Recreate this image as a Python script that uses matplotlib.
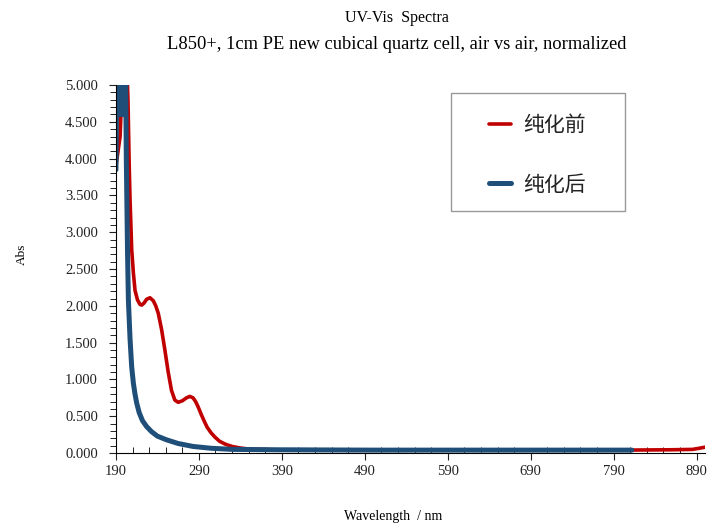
import numpy as np
import matplotlib.pyplot as plt
from matplotlib.patches import Rectangle
from matplotlib.ticker import FixedLocator, FormatStrFormatter, MultipleLocator

# 纯化前 (red)
wl_before = [190, 192.5, 195, 196, 197, 199, 201, 203, 204.5, 206, 207, 209, 211, 213, 216, 219, 221,
             224, 227, 231, 235, 238, 241, 245, 249, 253, 257, 261, 265, 270, 275, 279,
             283, 286, 289, 293, 297, 300, 305, 310, 315, 322, 330, 339, 350, 363, 380,
             420, 500, 600, 700, 800, 860, 885, 893, 900]
abs_before = [3.90, 4.10, 4.30, 4.60, 5.30, 5.50, 5.50, 5.30, 4.80, 3.90, 3.44, 2.76, 2.45, 2.21, 2.08, 2.02, 2.01,
              2.04, 2.09, 2.11, 2.07, 2.00, 1.90, 1.68, 1.40, 1.10, 0.85, 0.72, 0.69, 0.71, 0.75, 0.77,
              0.75, 0.70, 0.63, 0.52, 0.42, 0.35, 0.27, 0.21, 0.16, 0.12, 0.09, 0.07, 0.055, 0.05, 0.045,
              0.04, 0.04, 0.04, 0.04, 0.04, 0.045, 0.05, 0.065, 0.08]

# 纯化后 (blue), noisy / saturated above 5 between 191 and 202 nm
wl_after = [190, 191.5, 193, 194.5, 196, 197.5, 199, 200.5, 201.5, 202.5, 204, 205, 207, 209, 211, 213, 215,
            218, 222, 227, 233, 240, 251, 265, 283, 305, 331, 380, 500, 650, 812]
abs_after = [3.85, 5.60, 4.60, 5.60, 4.60, 5.60, 4.60, 5.60, 5.30, 4.00, 2.70, 2.08, 1.55, 1.17, 0.95, 0.80, 0.68,
             0.55, 0.44, 0.36, 0.29, 0.23, 0.18, 0.13, 0.09, 0.065, 0.05, 0.045, 0.04, 0.04, 0.04]

x_ticks = [190, 290, 390, 490, 590, 690, 790, 890]

plt.rcParams['font.family'] = ['Liberation Serif', 'DejaVu Serif']

fig = plt.figure(figsize=(7.07, 5.25), dpi=100)
ax = fig.add_axes([0.164, 0.137, 0.833, 0.701])

ax.plot(wl_before, abs_before, color='#C00000', lw=2.6, label='纯化前', solid_capstyle='round')
ax.plot(wl_after, abs_after, color='#1F4E79', lw=3.6, label='纯化后', solid_capstyle='round')

ax.set_xlim(190, 900)
ax.set_ylim(0, 5)
ax.xaxis.set_major_locator(FixedLocator(x_ticks))
ax.xaxis.set_minor_locator(FixedLocator(np.arange(190, 900, 20)))
ax.yaxis.set_major_locator(MultipleLocator(0.5))
ax.yaxis.set_minor_locator(MultipleLocator(0.1))
ax.yaxis.set_major_formatter(FormatStrFormatter('%.3f'))

for s in ['top', 'right']:
    ax.spines[s].set_visible(False)
ax.tick_params(axis='both', which='major', direction='out', length=5, labelsize=10.5, colors='#222222')
ax.tick_params(axis='y', which='major', pad=8)
ax.tick_params(axis='x', which='minor', direction='in', length=4)
ax.tick_params(axis='y', which='minor', direction='out', length=4)

ax.set_xlabel('Wavelength  / nm', fontsize=10)
ax.xaxis.set_label_coords(0.47, -0.155)
ax.set_ylabel('Abs', fontsize=9.5)
ax.yaxis.set_label_coords(-0.15, 0.54)

fig.text(0.5615, 0.966, 'UV-Vis  Spectra', ha='center', va='center', fontsize=11.5)
fig.text(0.5615, 0.916, 'L850+, 1cm PE new cubical quartz cell, air vs air, normalized',
         ha='center', va='center', fontsize=13.3)

# legend box
ax.add_patch(Rectangle((0.569, 0.658), 0.295, 0.320, transform=ax.transAxes,
                       facecolor='white', edgecolor='#999999', lw=1.0, zorder=4))
leg = ax.legend(loc='center', bbox_to_anchor=(0.716, 0.810), frameon=False,
                prop={'family': ['Noto Sans CJK SC', 'DejaVu Sans'], 'size': 15},
                handlelength=1.05, handletextpad=0.6, labelspacing=1.8)
leg.set_zorder(5)
for t in leg.get_texts():
    t.set_color('#222222')

fig.savefig('out.png', dpi=100, facecolor='white')
